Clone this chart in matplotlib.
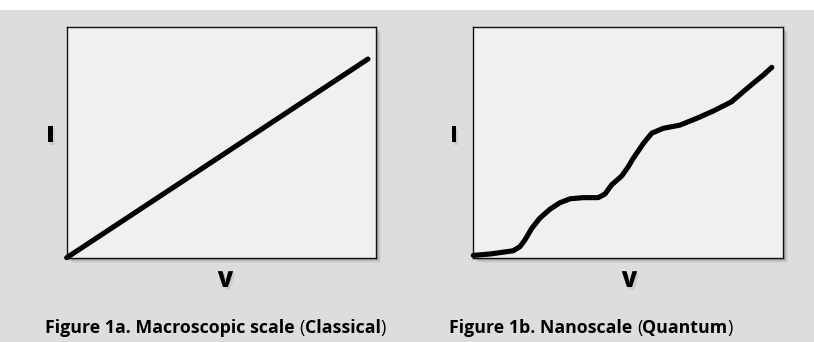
import matplotlib.pyplot as plt
import matplotlib.patheffects as pe
from matplotlib.patches import Rectangle

# classical: straight line
v_classical = [0.0, 0.974]
i_classical = [0.0, 0.86]

# quantum: stepped curve
v_quantum = [0.0, 0.054, 0.129, 0.151, 0.167, 0.189, 0.215, 0.248, 0.280, 0.313,
             0.356, 0.404, 0.426, 0.447, 0.480, 0.501, 0.517, 0.550, 0.577,
             0.614, 0.668, 0.722, 0.776, 0.835, 0.873, 0.905, 0.938, 0.965]
i_quantum = [0.010, 0.016, 0.030, 0.048, 0.077, 0.127, 0.171, 0.210, 0.238, 0.255,
             0.260, 0.260, 0.276, 0.315, 0.354, 0.394, 0.430, 0.495, 0.539,
             0.560, 0.574, 0.603, 0.635, 0.675, 0.719, 0.755, 0.791, 0.824]

captions = [("Figure 1a. Macroscopic scale ", "Classical"),
            ("Figure 1b. Nanoscale ", "Quantum")]

W, H = 814, 342
bg = "#dcddde"
font = "Open Sans"

fig = plt.figure(figsize=(W / 100, H / 100), dpi=100)
fig.patch.set_facecolor("white")
# gray panel below the white top strip
fig.add_artist(Rectangle((0, 0), 1, (H - 10) / H, transform=fig.transFigure,
                         facecolor=bg, edgecolor="none", zorder=-10))

boxes = [(66.7, 26.7, 309.3, 231), (473.3, 26.7, 309.3, 231)]
data = [(v_classical, i_classical), (v_quantum, i_quantum)]
cap_x = [45, 449]
i_x = [50.5, 454]
v_x = [225.5, 629.5]

shadow = [pe.SimplePatchShadow(offset=(1.5, -2), shadow_rgbFace="black", alpha=0.08),
          pe.Normal()]


def letter(x, y, s):
    fig.text(x / W, 1 - y / H, s, family=font, weight=800,
             fontsize=16, ha="center", va="baseline", path_effects=shadow)


for (x0, y0, w, h), (vx, iy), (c1, c2), cx, ix, vxx in zip(
        boxes, data, captions, cap_x, i_x, v_x):
    # soft shadow
    for k, a in [(5, 0.04), (4, 0.05), (3, 0.07), (2, 0.1)]:
        fig.add_artist(Rectangle(((x0 + k) / W, 1 - (y0 + h + k) / H), w / W, h / H,
                                 transform=fig.transFigure, facecolor="black",
                                 alpha=a, edgecolor="none", zorder=-5))
    ax = fig.add_axes([x0 / W, 1 - (y0 + h) / H, w / W, h / H])
    ax.set_facecolor("#f0f0f0")
    for s in ax.spines.values():
        s.set_linewidth(1.0)
        s.set_color("#111111")
    ax.plot(vx, iy, color="black", lw=3.7, solid_capstyle="round",
            solid_joinstyle="round", clip_on=False)
    ax.set_xlim(0, 1)
    ax.set_ylim(0, 1)
    ax.set_xticks([])
    ax.set_yticks([])

    # axis letters
    letter(ix, 142, "I")
    letter(vxx, 287, "V")

    # caption: bold text with regular-weight parentheses
    prev = fig.text(cx / W, 1 - 333 / H, c1, family=font, weight="bold",
                    fontsize=12.8, ha="left", va="baseline")
    for s, wt in [("(", "normal"), (c2, "bold"), (")", "normal")]:
        prev = ax.annotate(s, xy=(1, 0), xycoords=prev, family=font, weight=wt,
                           fontsize=12.8, va="bottom", ha="left",
                           annotation_clip=False)

fig.savefig("out.png", dpi=100)
